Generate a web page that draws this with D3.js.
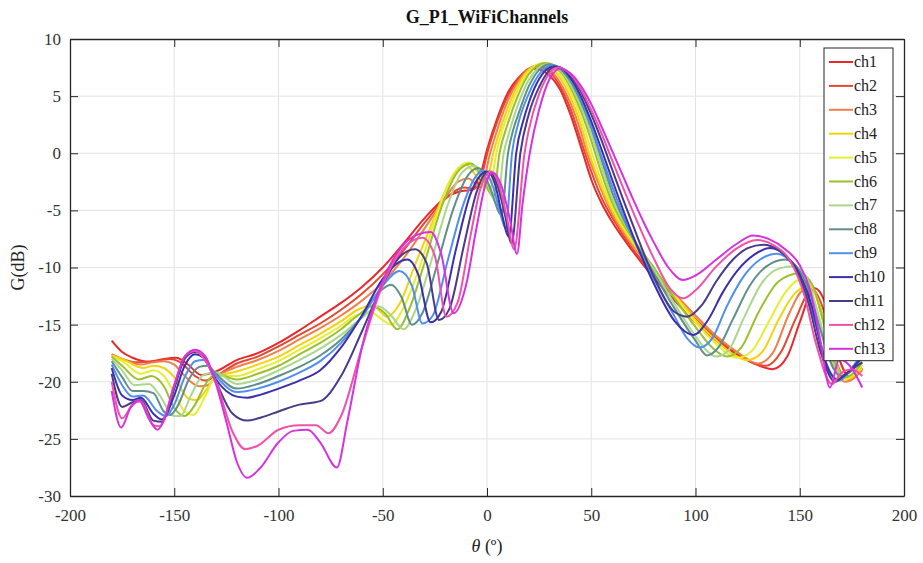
<!DOCTYPE html>
<html>
<head>
<meta charset="utf-8">
<script src="https://cdn.jsdelivr.net/npm/d3@7"></script>
<style>
  body { margin: 0; background: #fff; }
  svg, text { font-family: "Liberation Serif", "Times New Roman", serif; }
</style>
</head>
<body>
<div id="chart"></div>
<script>
// Channel names and colours
const channelNames = ["ch1","ch2","ch3","ch4","ch5","ch6","ch7","ch8","ch9","ch10","ch11","ch12","ch13"];
const channelColors = ["#e8282c","#e5472f","#f07f4c","#f5d20c","#e6ef2e","#9cbf2e","#a9d78c",
                       "#5f8f8b","#4f8ff0","#3b2fae","#4a3a8a","#f052a8","#d532e0"];

// Tick values
const xTicks = [-200,-150,-100,-50,0,50,100,150,200];
const yTicks = [-30,-25,-20,-15,-10,-5,0,5,10];

// [theta (deg), G (dB)]
const ch1 = [[-180,-16.4],[-175,-17.4],[-170,-17.9],[-162,-18.25],[-155,-18.0],[-149,-17.9],[-144,-18.4],[-137,-19.4],[-130,-19.1],[-120,-18.1],[-110,-17.5],[-100,-16.6],[-90,-15.5],[-80,-14.3],[-70,-13.1],[-60,-11.7],[-50,-10.0],[-40,-7.9],[-30,-5.7],[-20,-3.9],[-12,-3.3],[-7,-3.2],[-3,-1.8],[0,0.3],[5,3.1],[10,5.3],[15,6.6],[23,7.4],[30,6.8],[35,5.6],[40,3.4],[46,0],[50,-2.3],[55,-4.4],[60,-6.0],[70,-8.6],[80,-10.9],[90,-12.9],[100,-14.8],[110,-16.4],[120,-17.6],[128,-18.4],[137,-18.9],[144,-17.8],[150,-14.8],[157,-11.8],[162,-13.0],[168,-17.5],[174,-19.6],[180,-18.8]];
const ch2 = [[-180,-17.6],[-175,-18.0],[-168,-18.3],[-160,-18.2],[-152,-18.0],[-147,-18.3],[-140,-19.5],[-135,-19.9],[-130,-19.5],[-120,-18.4],[-110,-17.8],[-100,-16.9],[-90,-15.9],[-80,-14.9],[-70,-13.7],[-60,-12.3],[-50,-10.6],[-40,-8.5],[-30,-6.1],[-20,-4.0],[-11,-3.0],[-6,-3.1],[-2,-1.6],[0,-0.1],[5,2.8],[10,5.0],[15,6.5],[20,7.4],[24,7.6],[30,7.1],[35,5.9],[40,3.9],[47,0],[50,-1.6],[55,-3.9],[60,-5.6],[70,-8.4],[80,-10.6],[90,-12.6],[100,-14.5],[110,-16.2],[120,-17.5],[127,-18.3],[134,-18.6],[141,-17.4],[148,-14.5],[156,-11.9],[161,-13.5],[167,-18.0],[173,-19.8],[180,-18.9]];
const ch3 = [[-180,-17.6],[-175,-18.0],[-166,-18.5],[-160,-18.3],[-155,-18.2],[-150,-18.5],[-145,-19.5],[-138,-20.4],[-134,-20.3],[-130,-19.6],[-120,-18.7],[-110,-18.1],[-100,-17.3],[-90,-16.3],[-80,-15.3],[-70,-14.2],[-60,-12.9],[-50,-11.3],[-40,-9.2],[-30,-6.6],[-20,-3.9],[-14,-2.5],[-9,-2.2],[-3,-3.0],[1.5,0],[5,2.1],[10,4.6],[15,6.3],[20,7.35],[25,7.7],[30,7.3],[35,6.2],[40,4.4],[45,1.9],[48,0],[50,-1.0],[55,-3.3],[60,-5.3],[70,-8.1],[80,-10.3],[90,-12.3],[100,-14.2],[110,-16.0],[120,-17.4],[130,-18.4],[137,-17.5],[145,-14.0],[152,-12.0],[156,-12.0],[161,-14.5],[166,-18.5],[172,-20.0],[180,-19.0]];
const ch4 = [[-180,-17.7],[-175,-18.0],[-165,-18.8],[-160,-18.6],[-155,-18.8],[-150,-19.6],[-143,-21.5],[-139,-21.6],[-135,-20.8],[-130,-19.6],[-120,-19.1],[-110,-18.5],[-100,-17.8],[-90,-16.8],[-80,-15.8],[-70,-14.7],[-62,-13.7],[-55,-13.3],[-48,-14.3],[-42,-13.2],[-35,-10.0],[-25,-5.5],[-18,-2.5],[-13,-1.2],[-10,-1.0],[-6,-1.8],[-1,-3.0],[3,0],[5,1.3],[10,4.0],[15,6.0],[20,7.3],[26,7.8],[30,7.55],[35,6.6],[40,4.9],[45,2.5],[49,0],[55,-3.0],[60,-5.0],[70,-7.9],[80,-10.2],[90,-12.4],[100,-14.6],[110,-16.4],[118,-17.6],[125,-18.1],[132,-17.4],[140,-14.5],[148,-12.2],[155,-11.6],[160,-13.5],[165,-17.0],[172,-19.8],[180,-18.8]];
const ch5 = [[-180,-17.8],[-175,-18.2],[-166,-19.3],[-160,-19.0],[-155,-19.5],[-150,-21.0],[-145,-22.6],[-141,-22.9],[-135,-21.2],[-130,-19.5],[-120,-19.5],[-110,-18.9],[-100,-18.2],[-90,-17.2],[-80,-16.2],[-70,-15.1],[-63,-14.2],[-56,-13.9],[-50,-14.6],[-46,-15.0],[-40,-13.5],[-32,-9.8],[-24,-5.3],[-16,-1.8],[-9,-0.8],[-4,-1.8],[1,-3.3],[4.5,0],[7,1.8],[10,3.4],[15,5.65],[20,7.1],[27,7.9],[30,7.8],[35,6.9],[40,5.4],[45,3.1],[50,0.2],[55,-2.5],[60,-4.7],[70,-7.7],[80,-10.1],[90,-12.5],[100,-14.8],[110,-16.7],[120,-17.9],[127,-17.3],[135,-14.8],[143,-12.2],[150,-11.1],[155,-11.4],[160,-13.8],[165,-17.5],[171,-19.8],[180,-18.5]];
const ch6 = [[-180,-17.8],[-175,-18.6],[-167,-19.8],[-161,-19.5],[-155,-20.4],[-150,-22.3],[-145,-23.0],[-140,-22.0],[-135,-20.2],[-130,-19.3],[-120,-19.8],[-110,-19.3],[-100,-18.6],[-90,-17.6],[-80,-16.6],[-70,-15.4],[-62,-14.2],[-55,-13.4],[-49,-14.0],[-43,-15.4],[-37,-13.5],[-30,-9.6],[-22,-4.8],[-14,-1.6],[-7.5,-0.9],[-2,-2.2],[3,-3.8],[6,0],[10,2.6],[15,5.1],[20,6.9],[28,7.9],[35,7.2],[40,5.8],[45,3.7],[50,1.1],[55,-1.8],[60,-4.3],[70,-7.5],[80,-10.0],[90,-12.7],[100,-15.2],[108,-17.0],[115,-17.8],[122,-17.0],[130,-14.0],[140,-11.2],[150,-10.5],[156,-11.5],[161,-14.5],[166,-18.0],[172,-19.6],[180,-18.3]];
const ch7 = [[-180,-18.0],[-175,-19.0],[-169,-20.3],[-162,-20.2],[-157,-21.2],[-150,-23.0],[-147,-23.0],[-142,-21.2],[-136,-19.4],[-130,-19.2],[-120,-20.2],[-110,-19.8],[-100,-19.0],[-90,-18.1],[-80,-17.1],[-70,-15.9],[-60,-14.4],[-52,-13.4],[-46,-14.2],[-40,-15.4],[-34,-13.6],[-27,-9.6],[-19,-4.6],[-12,-1.7],[-6,-1.1],[0,-2.6],[5,-4.5],[8,0],[10,1.4],[15,4.3],[20,6.4],[29,7.8],[35,7.3],[40,6.0],[45,4.1],[50,1.7],[55,-1.2],[60,-3.9],[70,-7.4],[80,-10.2],[90,-13.2],[100,-16.0],[105,-17.2],[110,-17.8],[116,-17.2],[123,-14.5],[132,-11.3],[140,-10.1],[147,-9.9],[153,-10.8],[158,-13.5],[164,-17.5],[171,-19.4],[180,-18.0]];
const ch8 = [[-180,-18.2],[-175,-19.6],[-170,-20.8],[-165,-20.8],[-160,-21.0],[-155,-22.6],[-152,-22.9],[-148,-22.0],[-143,-19.8],[-138,-18.7],[-134,-18.6],[-130,-19.3],[-120,-20.6],[-110,-20.2],[-100,-19.5],[-90,-18.7],[-80,-17.7],[-70,-16.3],[-60,-14.3],[-52,-12.2],[-46,-11.5],[-41,-12.6],[-36,-15.0],[-31,-14.0],[-24,-9.8],[-16,-4.8],[-9,-1.9],[-4,-1.3],[1,-2.8],[7,-5.4],[10,-0.1],[12.5,2.0],[15,3.4],[20,5.85],[25,7.3],[30,7.8],[35,7.4],[40,6.3],[45,4.5],[50,2.2],[55,-0.6],[60,-3.4],[70,-7.4],[80,-10.5],[90,-13.6],[100,-16.4],[105.5,-17.7],[111,-17.0],[118,-14.5],[126,-11.6],[134,-9.9],[143,-9.3],[150,-10.3],[155,-12.3],[160,-15.5],[166,-18.8],[170,-19.5],[175,-19.0],[180,-17.8]];
const ch9 = [[-180,-18.5],[-175,-20.3],[-170,-21.3],[-165,-21.2],[-158,-22.6],[-154,-23.0],[-150,-22.0],[-145,-19.6],[-140,-18.2],[-136,-18.1],[-130,-19.5],[-120,-20.9],[-115,-20.8],[-110,-20.6],[-100,-20.0],[-90,-19.2],[-80,-18.2],[-70,-16.6],[-60,-14.3],[-50,-11.6],[-42,-10.3],[-36,-11.6],[-31,-14.9],[-26,-14.2],[-19,-9.5],[-11,-4.3],[-6,-2.2],[-2,-1.5],[3,-3.0],[6,-5.0],[9,-6.6],[12,0],[15,2.6],[20,5.2],[25,6.9],[31,7.7],[35,7.5],[40,6.5],[45,4.8],[50,2.4],[55,-0.3],[60,-2.9],[70,-7.4],[80,-11.0],[90,-14.3],[96,-16.2],[102,-17.0],[108,-16.2],[115,-13.4],[123,-10.8],[131,-9.3],[139,-8.8],[147,-9.8],[152,-11.5],[158,-15.2],[163,-18.5],[169,-19.9],[174,-19.0],[180,-17.5]];
const ch10 = [[-180,-18.8],[-175,-21.2],[-170,-21.6],[-166,-21.4],[-160,-22.8],[-156,-23.3],[-150,-21.2],[-145,-18.6],[-140,-17.6],[-136,-17.9],[-130,-19.8],[-120,-21.3],[-115,-21.4],[-110,-21.2],[-100,-20.6],[-90,-19.9],[-80,-19.0],[-70,-17.0],[-60,-14.2],[-50,-11.0],[-42,-9.5],[-38,-9.3],[-33,-10.6],[-27,-14.8],[-22,-13.9],[-15,-8.5],[-8,-3.6],[-3,-1.9],[0,-1.6],[4,-2.8],[7,-5.2],[10.5,-7.3],[14,0],[17.5,2.9],[20,4.4],[25,6.5],[32,7.6],[35,7.5],[40,6.6],[45,5.0],[50,2.8],[55,0.3],[60,-2.3],[70,-7.2],[80,-11.4],[90,-14.7],[99,-15.9],[106,-14.6],[113,-12.2],[120,-10.3],[128,-8.9],[135.7,-8.3],[143,-8.9],[150,-10.6],[156,-13.5],[161,-17.5],[168,-19.8],[173,-19.2],[180,-17.8]];
const ch11 = [[-180,-19.3],[-175,-22.2],[-170,-21.8],[-166,-21.6],[-160,-23.4],[-156,-23.5],[-150,-20.6],[-145,-18.0],[-140,-17.4],[-136,-17.8],[-130,-20.0],[-122,-22.8],[-115,-23.4],[-108,-23.1],[-100,-22.6],[-90,-22.0],[-80,-21.7],[-70,-19.5],[-60,-15.6],[-50,-11.5],[-42,-9.1],[-34.5,-8.4],[-29,-9.6],[-23,-14.6],[-18,-13.6],[-11,-8.0],[-5,-3.4],[-1,-1.8],[1,-1.6],[5,-2.8],[8.5,-5.3],[11.8,-7.9],[16,0],[20,3.4],[25,5.8],[33,7.6],[40,6.8],[45,5.4],[50,3.4],[55,1.1],[60,-1.4],[65,-3.9],[70,-6.3],[80,-10.8],[90,-13.9],[96,-14.3],[103,-13.3],[110,-11.2],[118,-9.3],[125,-8.3],[132.5,-8.0],[140,-8.5],[148,-10.2],[154,-13.0],[160,-17.4],[167,-20.0],[172,-19.3],[180,-18.3]];
const ch12 = [[-180,-20.0],[-175,-23.2],[-170,-22.0],[-166,-21.7],[-160,-23.8],[-157,-23.9],[-150,-20.3],[-145,-17.8],[-140,-17.3],[-136,-17.9],[-130,-20.0],[-122,-24.4],[-116,-25.9],[-110,-25.6],[-100,-24.2],[-90,-23.8],[-82,-23.8],[-76,-24.5],[-70,-23.0],[-60,-17.0],[-50,-11.5],[-40,-8.3],[-31,-7.4],[-25,-9.0],[-19.5,-14.3],[-14,-13.0],[-8,-7.3],[-3,-3.0],[2,-1.6],[6,-2.9],[9.5,-5.6],[13,-8.4],[18,0],[20,2.0],[25,5.2],[30,7.0],[34,7.5],[40,6.9],[45,5.6],[50,3.8],[55,1.7],[60,-0.6],[65,-2.9],[70,-5.1],[80,-9.2],[88,-11.9],[94,-12.7],[100,-12.0],[110,-9.9],[120,-8.3],[129.5,-7.6],[138,-8.1],[146,-9.6],[152,-12.3],[158,-16.8],[165.5,-20.2],[170,-19.2],[175,-18.9],[180,-19.5]];
const ch13 = [[-180,-20.8],[-175.5,-24.0],[-171,-22.3],[-167,-21.6],[-162,-23.3],[-158,-24.2],[-155,-23.4],[-150,-20.3],[-145,-17.8],[-140,-17.2],[-135,-17.8],[-130,-20.2],[-125,-23.5],[-120,-27.0],[-115,-28.4],[-109,-27.6],[-100,-25.3],[-93,-24.3],[-86,-24.2],[-80,-25.3],[-72,-27.5],[-67,-23.5],[-60,-17.0],[-50,-11.2],[-40,-8.0],[-33,-7.1],[-27,-6.9],[-22,-8.8],[-16,-14.0],[-10,-11.5],[-5,-6.5],[0,-2.3],[3,-1.7],[7,-2.9],[11,-5.8],[14.4,-8.8],[17,-4.5],[20.5,0],[25,3.8],[30,6.5],[35,7.4],[40,7.0],[45,5.9],[50,4.3],[55,2.3],[60,0.2],[65,-1.9],[70,-4.0],[75,-6.0],[80,-7.8],[87,-10.0],[94,-11.1],[100,-10.7],[110,-9.3],[120,-7.9],[127.6,-7.2],[135,-7.5],[143,-8.4],[150,-9.8],[155,-12.0],[160,-16.5],[164.5,-20.5],[169,-18.0],[174,-18.6],[180,-20.5]];

const series = [ch1, ch2, ch3, ch4, ch5, ch6, ch7, ch8, ch9, ch10, ch11, ch12, ch13];

// Layout
const W = 923, H = 563;
const margin = {top: 39, right: 19, bottom: 67, left: 70};
const width = W - margin.left - margin.right,
      height = H - margin.top - margin.bottom;

const svg = d3.select("#chart").append("svg")
    .attr("width", W).attr("height", H)
    .attr("font-family", "'Liberation Serif', serif")
    .style("background", "#fff");

const g = svg.append("g").attr("transform", `translate(${margin.left},${margin.top})`);

const x = d3.scaleLinear().domain([-200, 200]).range([0, width]);
const y = d3.scaleLinear().domain([-30, 10]).range([height, 0]);

// Grid
g.append("g").selectAll("line").data(xTicks.slice(1, -1)).enter().append("line")
    .attr("x1", d => x(d)).attr("x2", d => x(d))
    .attr("y1", 0).attr("y2", height)
    .attr("stroke", "#e3e3e3").attr("stroke-width", 1);
g.append("g").selectAll("line").data(yTicks.slice(1, -1)).enter().append("line")
    .attr("x1", 0).attr("x2", width)
    .attr("y1", d => y(d)).attr("y2", d => y(d))
    .attr("stroke", "#e3e3e3").attr("stroke-width", 1);

// Curves
const line = d3.line()
    .x(d => x(d[0]))
    .y(d => y(d[1]))
    .curve(d3.curveMonotoneX);

g.append("g").selectAll("path").data(series).enter().append("path")
    .attr("fill", "none")
    .attr("stroke", (d, i) => channelColors[i])
    .attr("stroke-width", 2)
    .attr("d", line);

// Axes (MATLAB style: box with inward ticks)
const tickLen = 8;
const axisColor = "#262626";
const fmt = d => String(d);
const bottomAxis = g.append("g").attr("transform", `translate(0,${height})`)
    .call(d3.axisBottom(x).tickValues(xTicks).tickFormat(fmt).tickSizeInner(-tickLen).tickSizeOuter(0).tickPadding(13));
const leftAxis = g.append("g")
    .call(d3.axisLeft(y).tickValues(yTicks).tickFormat(fmt).tickSizeInner(-tickLen).tickSizeOuter(0).tickPadding(9));
const topAxis = g.append("g")
    .call(d3.axisTop(x).tickValues(xTicks).tickSizeInner(-tickLen).tickSizeOuter(0).tickFormat(""));
const rightAxis = g.append("g").attr("transform", `translate(${width},0)`)
    .call(d3.axisRight(y).tickValues(yTicks).tickSizeInner(-tickLen).tickSizeOuter(0).tickFormat(""));

[bottomAxis, leftAxis, topAxis, rightAxis].forEach(a => {
    a.attr("font-family", "'Liberation Serif', serif").attr("font-size", 17);
    a.select(".domain").attr("stroke", axisColor).attr("stroke-width", 1.3);
    a.selectAll(".tick line").attr("stroke", axisColor).attr("stroke-width", 1);
    a.selectAll(".tick text").attr("fill", "#333");
});

// Title and axis labels
svg.append("text")
    .attr("x", margin.left + width / 2).attr("y", 23)
    .attr("text-anchor", "middle")
    .style("font-size", "18px").style("font-weight", "bold")
    .attr("fill", "#111")
    .text("G_P1_WiFiChannels");

const xl = svg.append("text")
    .attr("x", margin.left + width / 2).attr("y", 552)
    .attr("text-anchor", "middle")
    .style("font-size", "18px")
    .attr("fill", "#222");
xl.append("tspan").style("font-style", "italic").text("θ");
xl.append("tspan").text(" (º)");

svg.append("text")
    .attr("transform", `translate(24,${margin.top + height / 2}) rotate(-90)`)
    .attr("text-anchor", "middle")
    .style("font-size", "18px")
    .attr("fill", "#222")
    .text("G(dB)");

// Legend
const legX = 824, legY = 48, legW = 69, rowH = 23.9;
const leg = svg.append("g");
leg.append("rect")
    .attr("x", legX).attr("y", legY)
    .attr("width", legW).attr("height", rowH * 13 + 2)
    .attr("fill", "#fff").attr("stroke", axisColor).attr("stroke-width", 1);
channelNames.forEach((name, i) => {
    const cy = legY + 14 + i * rowH;
    leg.append("line")
        .attr("x1", legX + 5).attr("x2", legX + 29)
        .attr("y1", cy).attr("y2", cy)
        .attr("stroke", channelColors[i]).attr("stroke-width", 2);
    leg.append("text")
        .attr("x", legX + 30).attr("y", cy + 5)
        .style("font-size", "16px")
        .attr("fill", "#222")
        .text(name);
});
</script>
</body>
</html>
